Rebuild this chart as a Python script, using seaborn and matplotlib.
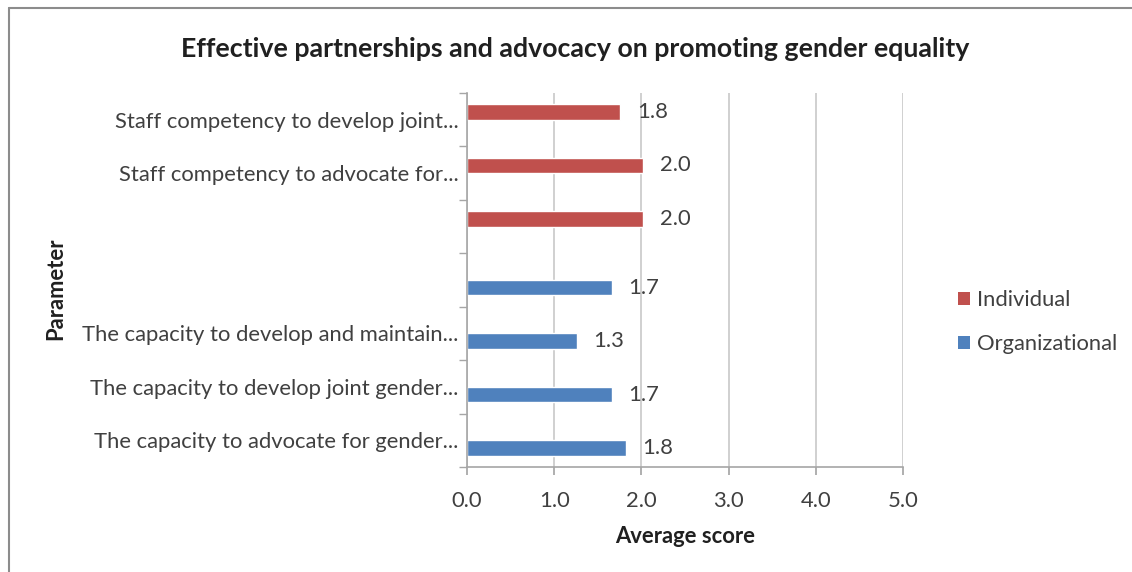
import matplotlib
matplotlib.use("Agg")
import matplotlib.pyplot as plt
import seaborn as sns
import pandas as pd
from matplotlib.lines import Line2D
from matplotlib.patches import Patch

# ---- data ----
categories = [
    "Staff competency to develop joint...",
    "Staff competency to advocate for...",
    " ",
    "  ",
    "The capacity to develop and maintain...",
    "The capacity to develop joint gender...",
    "The capacity to advocate for gender...",
]
series = ["Individual", "Individual", "Individual",
          "Organizational", "Organizational", "Organizational", "Organizational"]
values = [1.76, 2.02, 2.02, 1.66, 1.26, 1.66, 1.82]
series_order = ["Individual", "Organizational"]
x_ticks = [0.0, 1.0, 2.0, 3.0, 4.0, 5.0]

colors = {"Individual": "#C0504D", "Organizational": "#4F81BD"}

df = pd.DataFrame({"Parameter": categories, "Series": series, "Score": values})

sns.set_theme(style="white")
plt.rcParams["font.family"] = ["Lato", "DejaVu Sans"]

FS = 15.8

fig = plt.figure(figsize=(11.32, 5.72), dpi=100)
ax = fig.add_axes([0.4125, 0.1836, 0.3852, 0.6538])

sns.barplot(data=df, y="Parameter", x="Score", hue="Series",
            order=categories, hue_order=series_order, palette=colors,
            dodge=True, width=0.58, orient="h", ax=ax, legend=False,
            saturation=1, errorbar=None)

# data labels
for cont in ax.containers:
    ax.bar_label(cont, fmt="%.1f", padding=12, fontsize=FS, color="#404040")

ax.set_xlim(0, 5)
ax.set_ylim(len(categories) - 0.5, -0.5)
ax.set_xticks(x_ticks)
ax.set_xticklabels([f"{v:.1f}" for v in x_ticks], fontsize=FS, color="#404040")
ax.tick_params(axis="y", labelsize=FS, labelcolor="#404040", length=0, pad=6)
ax.set_yticks(range(len(categories)))
ax.set_yticklabels(categories)
ax.set_yticks([i - 0.5 for i in range(len(categories) + 1)], minor=True)
ax.tick_params(axis="y", which="minor", length=6, color="#A6A6A6", direction="out", left=True)
ax.tick_params(axis="x", length=6, color="#A6A6A6", direction="out", bottom=True, pad=11)

ax.grid(axis="x", color="#C8C8C8", linewidth=1.2)
ax.set_axisbelow(True)
for s in ["top", "right"]:
    ax.spines[s].set_visible(False)
for s in ["left", "bottom"]:
    ax.spines[s].set_color("#A6A6A6")
    ax.spines[s].set_linewidth(1.2)

ax.set_xlabel("Average score", fontsize=FS, fontweight="bold", color="#202020", labelpad=11)
ax.set_ylabel("")
fig.text(0.049, 0.495, "Parameter", rotation=90, ha="center", va="center",
         fontsize=FS, fontweight="bold", color="#202020")

fig.suptitle("Effective partnerships and advocacy on promoting gender equality",
             x=0.508, y=0.936, fontsize=19.3, fontweight="bold", color="#202020")

handles = [Patch(facecolor=colors[s], edgecolor="none", label=s) for s in series_order]
leg = fig.legend(handles=handles, loc="center left", bbox_to_anchor=(0.829, 0.437),
                 frameon=False, fontsize=FS, handlelength=0.55, handleheight=0.55,
                 handletextpad=0.3, labelspacing=1.1)
for t in leg.get_texts():
    t.set_color("#404040")

# outer chart frame (top and left edges)
fig.add_artist(Line2D([0.008, 1.0], [0.986, 0.986], transform=fig.transFigure,
                      color="#8C8C8C", linewidth=1.5))
fig.add_artist(Line2D([0.008, 0.008], [0.0, 0.986], transform=fig.transFigure,
                      color="#8C8C8C", linewidth=1.5))

fig.savefig("out.png", dpi=100, facecolor="white")
